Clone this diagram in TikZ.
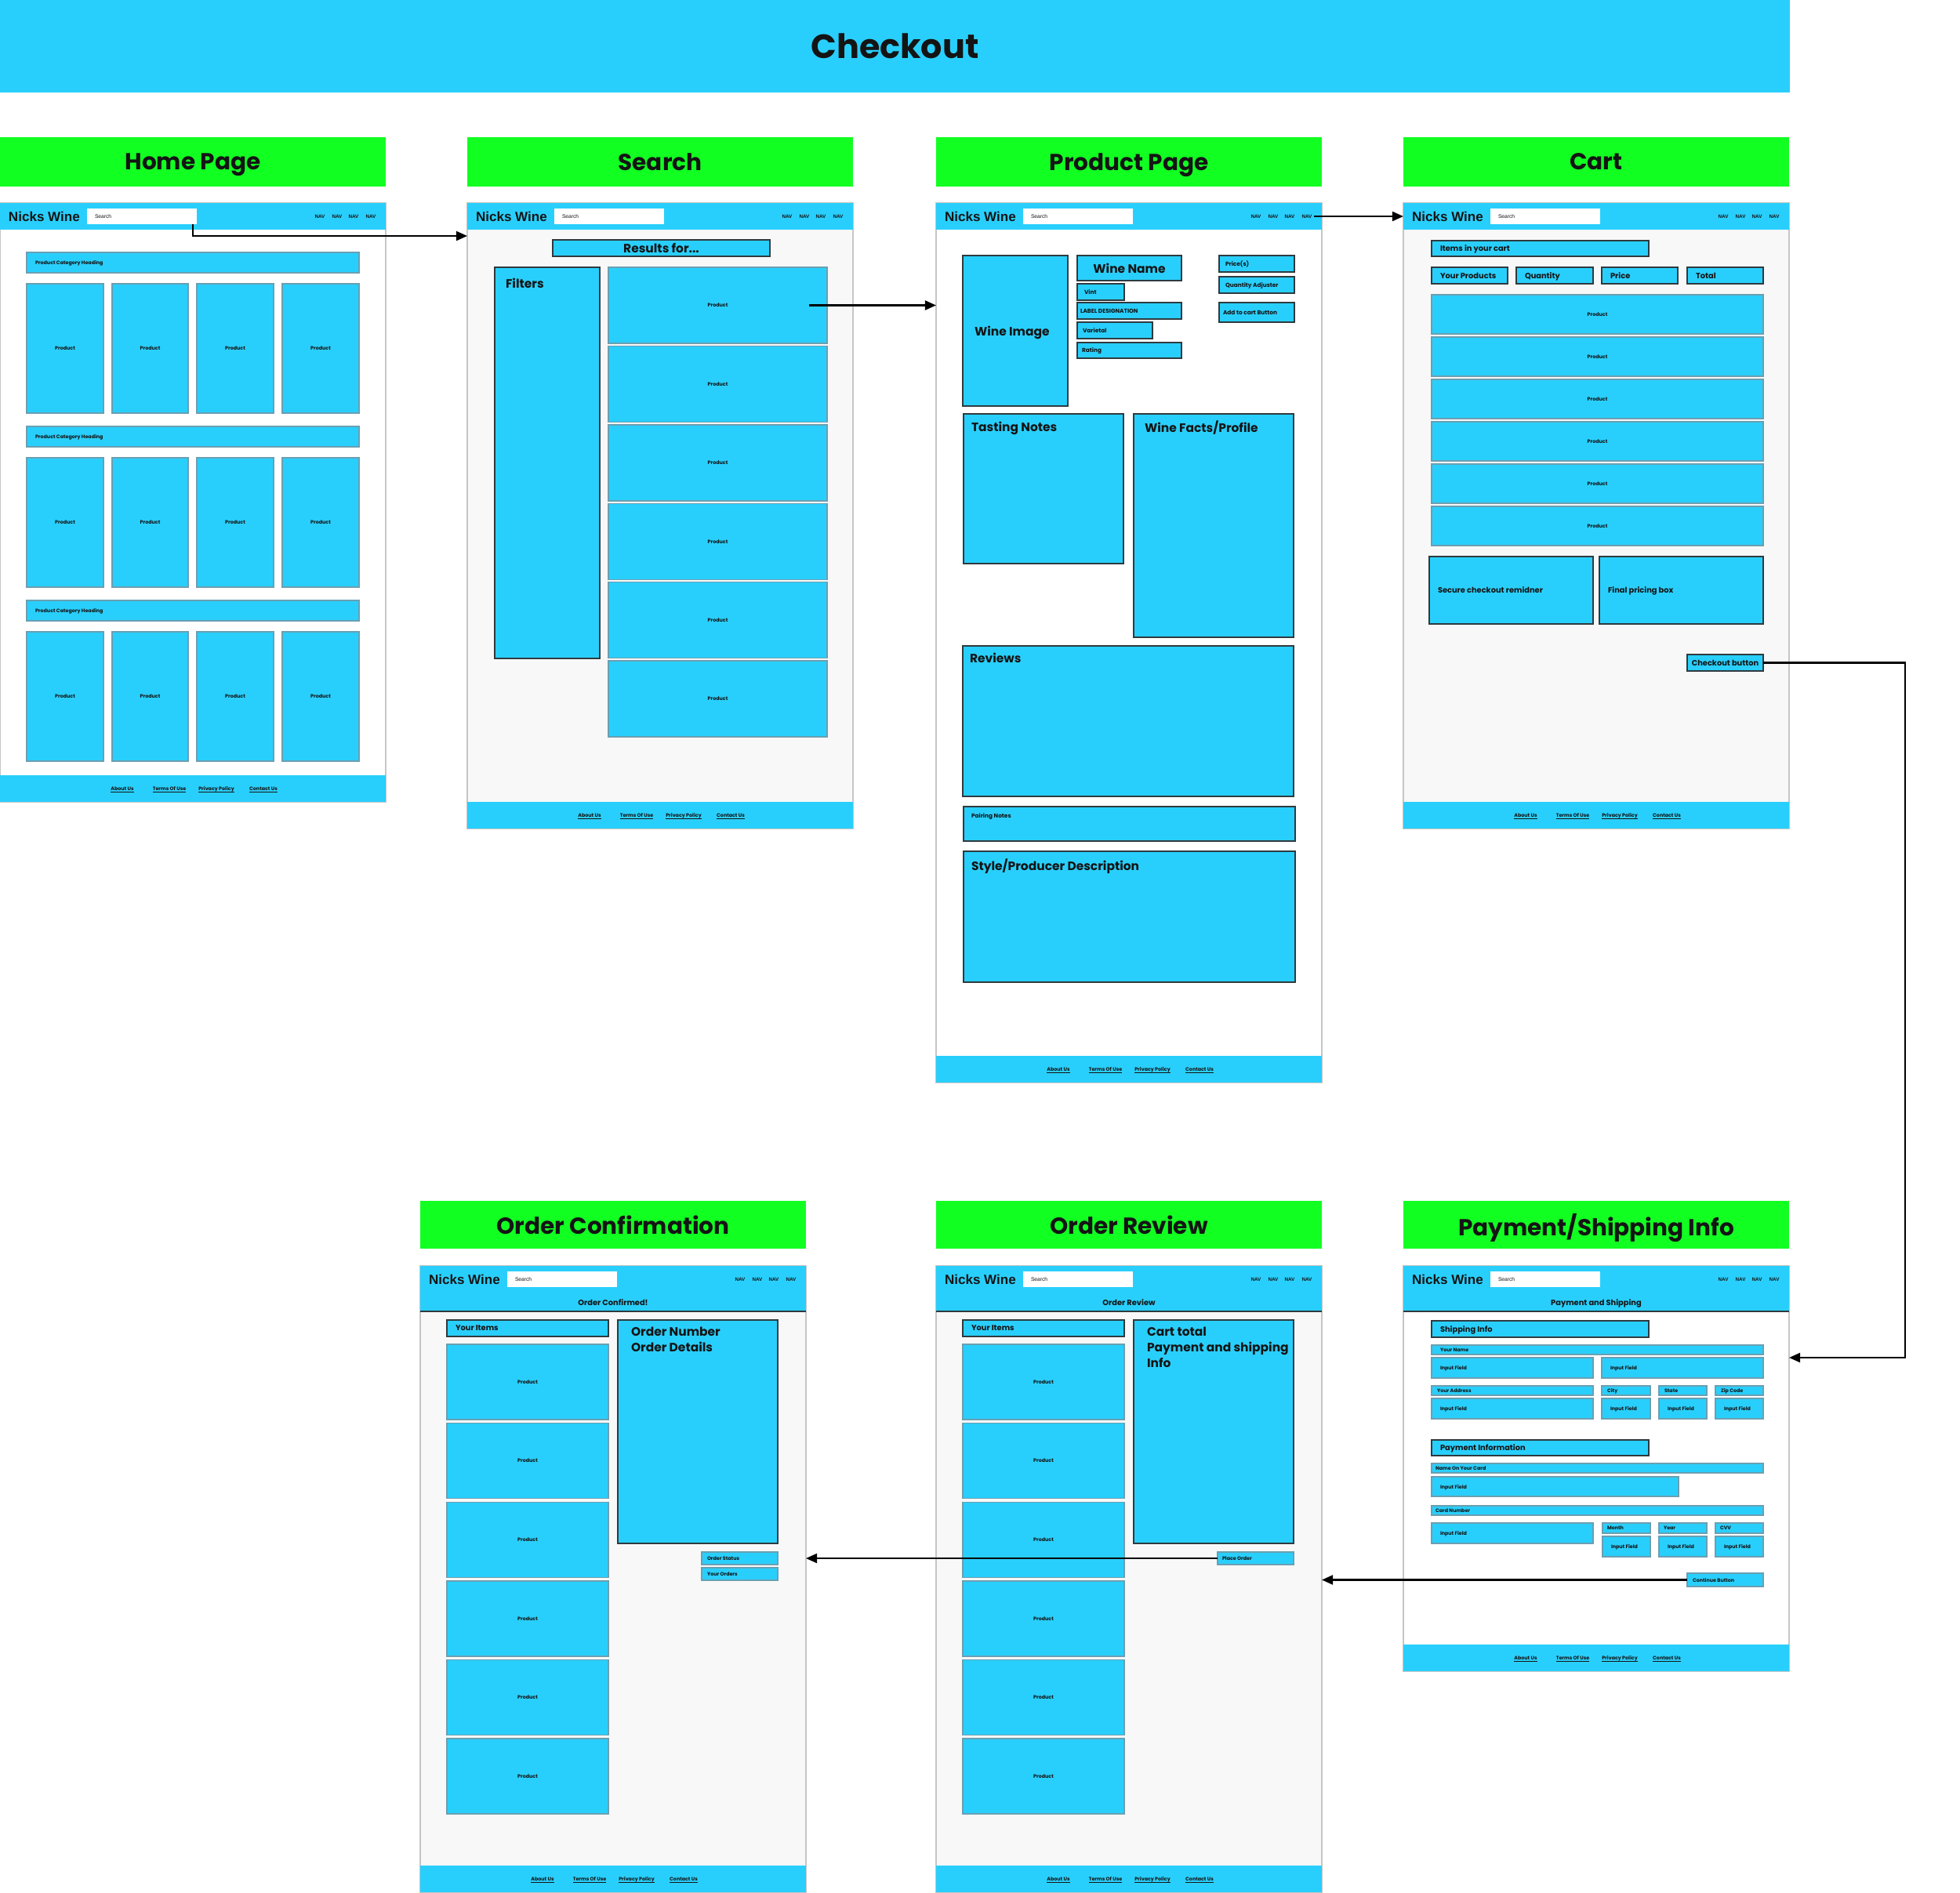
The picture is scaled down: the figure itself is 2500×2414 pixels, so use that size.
\documentclass[tikz,border=0pt]{standalone}
\usepackage{fontspec}
\setmainfont{Poppins}
\newfontfamily\brandfont{Liberation Sans}
\usetikzlibrary{arrows.meta,calc,fit,positioning}

\definecolor{wfblue}{HTML}{29CFFC}
\definecolor{wfgreen}{HTML}{12FF22}
\definecolor{wfgray}{HTML}{F8F8F8}
\definecolor{wfline}{HTML}{C6C6C6}
\definecolor{wfdark}{HTML}{2E3A3F}
\definecolor{wfsoft}{HTML}{6A9FB2}
\definecolor{wfink}{HTML}{141414}

\newcommand{\fsTitle}{\fontsize{12.2}{15}\selectfont\bfseries}
\newcommand{\fsHead}{\fontsize{8.4}{10}\selectfont\bfseries}
\newcommand{\fsBig}{\fontsize{4.4}{5.7}\selectfont\bfseries}
\newcommand{\fsMid}{\fontsize{2.8}{3.4}\selectfont\bfseries}
\newcommand{\fsSm}{\fontsize{2.1}{2.5}\selectfont\bfseries}
\newcommand{\fsTiny}{\fontsize{1.8}{2.2}\selectfont\bfseries}
\newcommand{\fsBrand}{\brandfont\fontsize{4.85}{5.8}\selectfont\bfseries}
\newcommand{\fsNav}{\brandfont\fontsize{1.8}{2.2}\selectfont\bfseries}
\newcommand{\fsSearch}{\brandfont\fontsize{1.9}{2.3}\selectfont}

\tikzset{
  frame/.style={draw=wfline, line width=0.35pt, fill=white},
  gframe/.style={frame, fill=wfgray},
  navbg/.style={fill=wfblue, draw=none},
  srchbox/.style={fill=white, draw=none},
  pbox/.style={draw=wfsoft, line width=0.4pt, fill=wfblue},
  dbox/.style={draw=wfdark, line width=0.55pt, fill=wfblue},
  pagehead/.style={fill=wfgreen, draw=none},
  titlebar/.style={fill=wfblue, draw=none},
  flow/.style={draw=black, line width=0.65pt, -{Triangle[length=4pt,width=3.4pt]}}
}

% box from corner (#3,#4) to corner (#5,#6)
\newcommand{\wbox}[6][pbox]{%
  \path (#3,#4) coordinate (#2-a) (#5,#6) coordinate (#2-b);
  \node[#1, fit=(#2-a)(#2-b)] (#2) {};
}
\newcommand{\cbox}[8][pbox]{%
  \wbox[#1]{#2}{#3}{#4}{#5}{#6}
  \node[font=#7, text depth=0pt] (#2-t) at (#2.center) {#8};
}
\newcommand{\lbox}[9][dbox]{%
  \wbox[#1]{#2}{#3}{#4}{#5}{#6}
  \node[anchor=west, text depth=0pt, font=#8] (#2-t) at ($(#2.west)+(#7,0)$) {#9};
}
\newcommand{\tbox}[9][dbox]{%
  \wbox[#1]{#2}{#3}{#4}{#5}{#6}
  \node[anchor=north west, align=left, font=#8] (#2-t) at ($(#2.north west)+(#7)$) {#9};
}
\newcommand{\navbar}[3]{%
  \wbox[navbg]{#1nav}{#2}{#3}{#2+492}{#3+34}
  \node[anchor=west, text depth=0pt, font=\fsBrand] (#1brand) at (#2+11,#3+17) {Nicks Wine};
  \wbox[srchbox]{#1search}{#2+111}{#3+7}{#2+251}{#3+27}
  \node[anchor=west, font=\fsSearch] (#1srchtxt) at (#2+121,#3+17) {Search};
  \foreach \nv/\nx in {1/408,2/430,3/451,4/473}
    \node[font=\fsNav] (#1nav\nv) at (#2+\nx,#3+17) {NAV};
}
\newcommand{\subhead}[4]{%
  \wbox[navbg]{#1head}{#2}{#3}{#2+492}{#3+58}
  \draw[wfdark, line width=0.5pt] (#1head.south west) -- (#1head.south east);
  \node[font=\fsMid, text depth=0pt] (#1sub) at (#2+246,#3+47) {#4};
}
\newcommand{\footbar}[3]{%
  \wbox[navbg]{#1foot}{#2}{#3}{#2+492}{#3+34}
  \foreach \fn/\fx/\ft in {1/156/About Us,2/216/Terms Of Use,3/276/Privacy Policy,4/336/Contact Us}{
    \node[font=\fsTiny, text depth=0pt] (#1foot\fn) at (#2+\fx,#3+17) {\ft};
    \draw[wfink, line width=0.2pt] ([yshift=-0.45pt]#1foot\fn.base west) -- ([yshift=-0.45pt]#1foot\fn.base east);
  }
}

\begin{document}
\begin{tikzpicture}[x=0.01cm,y=-0.01cm,
  every node/.style={inner sep=0pt, outer sep=0pt, text=wfink}]
\useasboundingbox (0,0) rectangle (2500,2414);

\cbox[titlebar]{title}{0}{0}{2283}{118}{\fsTitle}{Checkout}

\cbox[pagehead]{ghome}{0}{175}{492}{238}{\fsHead}{Home Page}
\cbox[pagehead]{gsearch}{596}{175}{1088}{238}{\fsHead}{Search}
\cbox[pagehead]{gprod}{1194}{175}{1686}{238}{\fsHead}{Product Page}
\cbox[pagehead]{gcart}{1790}{175}{2282}{238}{\fsHead}{Cart}
\cbox[pagehead]{gconf}{536}{1532}{1028}{1593}{\fsHead}{Order Confirmation}
\cbox[pagehead]{grev}{1194}{1532}{1686}{1593}{\fsHead}{Order Review}
\cbox[pagehead]{gpay}{1790}{1532}{2282}{1593}{\fsHead}{Payment/Shipping Info}

% home page
\wbox[frame]{hframe}{0}{259}{492}{1023}
\navbar{h}{0}{259}
\footbar{h}{0}{989}
\foreach \rw in {0,1,2}{
  \lbox[pbox]{hcat\rw}{34}{322+222*\rw}{458}{348+222*\rw}{11}{\fsTiny}{Product Category Heading}
  \foreach \cl/\xa/\xb in {0/34/132,1/143/240,2/251/349,3/360/458}{
    \cbox[pbox]{hp\rw\cl}{\xa}{362+222*\rw}{\xb}{527+222*\rw}{\fsTiny}{Product}
  }
}

% search
\wbox[gframe]{sframe}{596}{259}{1088}{1057}
\navbar{s}{596}{259}
\footbar{s}{596}{1023}
\cbox[dbox]{sres}{705}{306}{982}{327}{\fsBig}{Results for...}
\tbox{sfilt}{631}{341}{765}{840}{14,14}{\fsBig}{Filters}
\foreach \i in {0,...,5}{
  \cbox[pbox]{sp\i}{776}{341+100.4*\i}{1055}{438+100.4*\i}{\fsTiny}{Product}
}

% product page
\wbox[frame]{pframe}{1194}{259}{1686}{1381}
\navbar{p}{1194}{259}
\footbar{p}{1194}{1347}
\lbox{pimg}{1228}{326}{1362}{518}{15}{\fsBig}{Wine Image}
\cbox[dbox]{pname}{1374}{326}{1507}{358}{\fsBig}{Wine Name}
\lbox{pvint}{1374}{362}{1434}{383}{9}{\fsSm}{Vint}
\lbox{plabel}{1374}{386}{1507}{407}{4}{\fsSm}{LABEL DESIGNATION}
\lbox{pvar}{1374}{411}{1470}{432}{7}{\fsSm}{Varietal}
\lbox{prate}{1374}{437}{1507}{457}{6}{\fsSm}{Rating}
\lbox{pprice}{1555}{326}{1651}{347}{8}{\fsSm}{Price(s)}
\lbox{pqty}{1555}{353}{1651}{374}{8}{\fsSm}{Quantity Adjuster}
\lbox{padd}{1555}{386}{1651}{411}{5}{\fsSm}{Add to cart Button}
\tbox{ptaste}{1229}{528}{1433}{719}{10,10}{\fsBig}{Tasting Notes}
\tbox{pfacts}{1446}{528}{1650}{813}{14,9}{\fsBig}{Wine Facts/Profile}
\tbox{prev}{1228}{824}{1650}{1016}{9,9}{\fsBig}{Reviews}
\tbox{ppair}{1229}{1029}{1652}{1073}{10,9}{\fsSm}{Pairing Notes}
\tbox{pstyle}{1229}{1086}{1652}{1253}{10,10}{\fsBig}{Style/Producer Description}

% cart
\wbox[gframe]{cframe}{1790}{259}{2282}{1057}
\navbar{c}{1790}{259}
\footbar{c}{1790}{1023}
\lbox{citems}{1826}{307}{2103}{327}{11}{\fsMid}{Items in your cart}
\foreach \cl/\xa/\xb/\tx in {0/1826/1923/Your Products,1/1934/2032/Quantity,2/2043/2140/Price,3/2152/2249/Total}{
  \lbox{ccol\cl}{\xa}{341}{\xb}{362}{11}{\fsMid}{\tx}
}
\foreach \i in {0,...,5}{
  \cbox[pbox]{cp\i}{1826}{376+54*\i}{2249}{426+54*\i}{\fsTiny}{Product}
}
\lbox{csecure}{1823}{710}{2032}{796}{11}{\fsMid}{Secure checkout remidner}
\lbox{cfinal}{2040}{710}{2249}{796}{11}{\fsMid}{Final pricing box}
\cbox[dbox]{cobtn}{2152}{835}{2249}{856}{\fsMid}{Checkout button}

% payment / shipping
\wbox[frame]{yframe}{1790}{1615}{2282}{2132}
\subhead{y}{1790}{1615}{Payment and Shipping}
\navbar{y}{1790}{1615}
\footbar{y}{1790}{2098}
\lbox{yship}{1826}{1685}{2103}{1706}{11}{\fsMid}{Shipping Info}
\lbox[pbox]{yname}{1826}{1716}{2249}{1728}{11}{\fsTiny}{Your Name}
\lbox[pbox]{yin1}{1826}{1732}{2032}{1758}{11}{\fsTiny}{Input Field}
\lbox[pbox]{yin2}{2043}{1732}{2249}{1758}{11}{\fsTiny}{Input Field}
\foreach \cl/\xa/\xb/\tx in {0/1826/2032/Your Address,1/2043/2105/City,2/2116/2177/State,3/2188/2249/Zip Code}{
  \lbox[pbox]{yaddr\cl}{\xa}{1768}{\xb}{1780}{7}{\fsTiny}{\tx}
  \lbox[pbox]{yain\cl}{\xa}{1784}{\xb}{1810}{11}{\fsTiny}{Input Field}
}
\lbox{ypay}{1826}{1837}{2103}{1857}{11}{\fsMid}{Payment Information}
\lbox[pbox]{ycname}{1826}{1867}{2249}{1879}{5}{\fsTiny}{Name On Your Card}
\lbox[pbox]{ycin}{1826}{1884}{2141}{1909}{11}{\fsTiny}{Input Field}
\lbox[pbox]{ycnum}{1826}{1921}{2249}{1933}{5}{\fsTiny}{Card Number}
\lbox[pbox]{ycnin}{1826}{1943}{2032}{1969}{11}{\fsTiny}{Input Field}
\foreach \cl/\xa/\xb/\tx in {0/2044/2105/Month,1/2116/2177/Year,2/2188/2249/CVV}{
  \lbox[pbox]{yexp\cl}{\xa}{1943}{\xb}{1956}{6}{\fsTiny}{\tx}
  \lbox[pbox]{yexin\cl}{\xa}{1960}{\xb}{1986}{11}{\fsTiny}{Input Field}
}
\lbox[pbox]{contbtn}{2152}{2007}{2249}{2024}{7}{\fsTiny}{Continue Button}

% order review
\wbox[gframe]{rframe}{1194}{1615}{1686}{2414}
\subhead{r}{1194}{1615}{Order Review}
\navbar{r}{1194}{1615}
\footbar{r}{1194}{2380}
\lbox{ritems}{1228}{1684}{1434}{1705}{11}{\fsMid}{Your Items}
\tbox{rtotal}{1446}{1684}{1650}{1969}{17,9}{\fsBig}{Cart total\\Payment and shipping\\Info}
\foreach \i in {0,...,5}{
  \cbox[pbox]{rp\i}{1228}{1715+100.6*\i}{1434}{1811+100.6*\i}{\fsTiny}{Product}
}
\lbox[pbox]{pobtn}{1553}{1980}{1650}{1996}{6}{\fsTiny}{Place Order}

% order confirmation
\wbox[gframe]{oframe}{536}{1615}{1028}{2414}
\subhead{o}{536}{1615}{Order Confirmed!}
\navbar{o}{536}{1615}
\footbar{o}{536}{2380}
\lbox{oitems}{570}{1684}{776}{1705}{11}{\fsMid}{Your Items}
\tbox{odetail}{788}{1684}{992}{1969}{17,9}{\fsBig}{Order Number\\Order Details}
\foreach \i in {0,...,5}{
  \cbox[pbox]{op\i}{570}{1715+100.6*\i}{776}{1811+100.6*\i}{\fsTiny}{Product}
}
\lbox[pbox]{ostatus}{895}{1980}{992}{1996}{7}{\fsTiny}{Order Status}
\lbox[pbox]{oorders}{895}{2000}{992}{2016}{7}{\fsTiny}{Your Orders}

\coordinate (sin) at (596,301);
\coordinate (pturn) at (2430,1732);
\draw[flow] ([xshift=-0.05cm]hsearch.south east) |- (sin);
\draw[flow] ([xshift=-0.23cm]sp0.east) -- (sp0.east -| pframe.west);
\draw[flow] ([xshift=0.03cm]pnav4.east) -- (pnav4.east -| cframe.west);
\draw[flow] (cobtn.east) -| (pturn) -- (pturn -| yframe.east);
\draw[flow] (contbtn.west) -- (contbtn.west -| rframe.east);
\draw[flow] (pobtn.west) -- (pobtn.west -| oframe.east);
\end{tikzpicture}
\end{document}
